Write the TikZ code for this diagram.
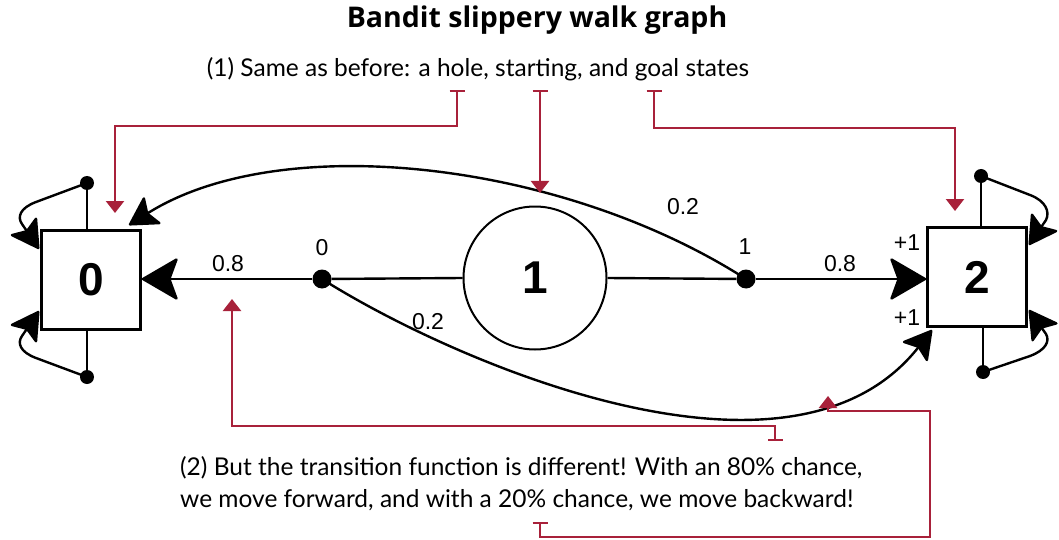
\documentclass[tikz,border=0pt]{standalone}
\usepackage{fontspec}
\setmainfont{Liberation Sans}
\newfontfamily\titlefont{Open Sans}
\newfontfamily\notefont{Lato}
\usetikzlibrary{arrows.meta}
\definecolor{notered}{RGB}{168,33,58}
\tikzset{
  state/.style={draw=black,line width=2.6pt,minimum size=99pt,inner sep=0pt,font=\fontsize{46}{46}\selectfont\bfseries,fill=white},
  startstate/.style={draw=black,line width=2pt,circle,minimum size=143pt,inner sep=0pt,font=\fontsize{46}{46}\selectfont\bfseries,fill=white},
  edge/.style={line width=2.4pt,black},
  bigarrow/.style={edge,-{Stealth[length=38pt,width=44pt,inset=8pt,round]}},
  midarrow/.style={edge,-{Stealth[length=30pt,width=34pt,inset=6pt,round]}},
  bigdot/.style={circle,fill=black,minimum size=19pt,inner sep=0pt},
  smalldot/.style={circle,fill=black,minimum size=14pt,inner sep=0pt},
  lbl/.style={font=\fontsize{23}{23}\selectfont,inner sep=1pt},
  note/.style={font=\notefont\fontsize{24.5}{32}\selectfont,inner sep=0pt,align=left},
  redline/.style={notered,line width=2.2pt},
  redarrow/.style={redline,{Bar[width=15pt,line width=2.2pt]}-{Triangle[length=12pt,width=18pt]}},
}
\begin{document}
\begin{tikzpicture}[x=1pt,y=-1pt]
\useasboundingbox (0,0) rectangle (1059,540);
\fill[white] (0,0) rectangle (1059,540);

% title
\node[font=\titlefont\bfseries\fontsize{28.5}{28.5}\selectfont] (title) at (537,20) {Bandit slippery walk graph};

% states
\node[state] (s0) at (91,280) {0};
\node[state] (s2) at (977,277) {2};
\node[startstate] (s1) at (535,278) {1};

% action dots
\node[bigdot] (d0) at (322,279) {};
\node[bigdot] (d1) at (746,279) {};
\node[lbl] at (322,248) {0};
\node[lbl] at (745,247) {1};

% main transitions
\draw[edge] (s1.west) -- (d0);
\draw[bigarrow] (d0) -- (s0.east |- d0);
\draw[edge] (s1.east) -- (d1);
\draw[bigarrow] (d1) -- (s2.west |- d1);
\node[lbl] at (228,264) {0.8};
\node[lbl] at (840,264) {0.8};
\node[lbl] at (907,243) {+1};
\node[lbl] at (907,318) {+1};

% slippery transitions
\coordinate (e0) at (129,225);
\coordinate (e2) at (932,330);
\draw[midarrow] (d1.center) .. controls (560,160) and (280,130) .. (e0);
\draw[midarrow] (d0.center) .. controls (450,360) and (790,510) .. (e2);
\node[lbl] at (683,207) {0.2};
\node[lbl] at (428,322) {0.2};

% self loops
\node[smalldot] (l0t) at (87,183) {};
\node[smalldot] (l0b) at (87,377) {};
\node[smalldot] (l2t) at (981,176) {};
\node[smalldot] (l2b) at (983,372) {};
\coordinate (a0t) at (39,249);
\coordinate (a0b) at (39,311);
\coordinate (a2t) at (1029,245);
\coordinate (a2b) at (1029,310);
\draw[edge] (l0t.center) -- (l0t.center |- s0.north);
\draw[edge] (l0b.center) -- (l0b.center |- s0.south);
\draw[edge] (l2t.center) -- (l2t.center |- s2.north);
\draw[edge] (l2b.center) -- (l2b.center |- s2.south);
\draw[midarrow] (l0t.center) -- (36,202) .. controls (20,208) and (17,217) .. (22,224) -- (a0t);
\draw[midarrow] (l0b.center) -- (36,358) .. controls (20,352) and (17,343) .. (22,336) -- (a0b);
\draw[midarrow] (l2t.center) -- (1030,195) .. controls (1046,201) and (1050,212) .. (1046,220) -- (a2t);
\draw[midarrow] (l2b.center) -- (1030,356) .. controls (1046,350) and (1050,341) .. (1046,334) -- (a2b);

% notes
\node[note,anchor=center] (n1) at (478,69) {(1) Same as before: a hole, starting, and goal states};
\node[note,anchor=west] (n2) at (180,484) {(2) But the transition function is different! With an 80\% chance,\\we move forward, and with a 20\% chance, we move backward!};

\coordinate (t1) at (457,90);
\coordinate (t2) at (540,90);
\coordinate (t3) at (654,90);
\coordinate (h1) at (115,213);
\coordinate (h2) at (540,193);
\coordinate (h3) at (955,211);
\draw[redarrow] (t1) -- (457,126) -| (h1);
\draw[redarrow] (t2) -- (h2);
\draw[redarrow] (t3) -- (654,128) -| (h3);

\coordinate (t4) at (775,441);
\coordinate (h4) at (232,299);
\draw[redarrow] (t4) -- (775,426) -| (h4);
\coordinate (t5) at (540,522);
\coordinate (h5) at (828,396);
\draw[redarrow] (t5) -- (540,537) -- (930,537) -- (930,411) -| (h5);
\end{tikzpicture}
\end{document}
